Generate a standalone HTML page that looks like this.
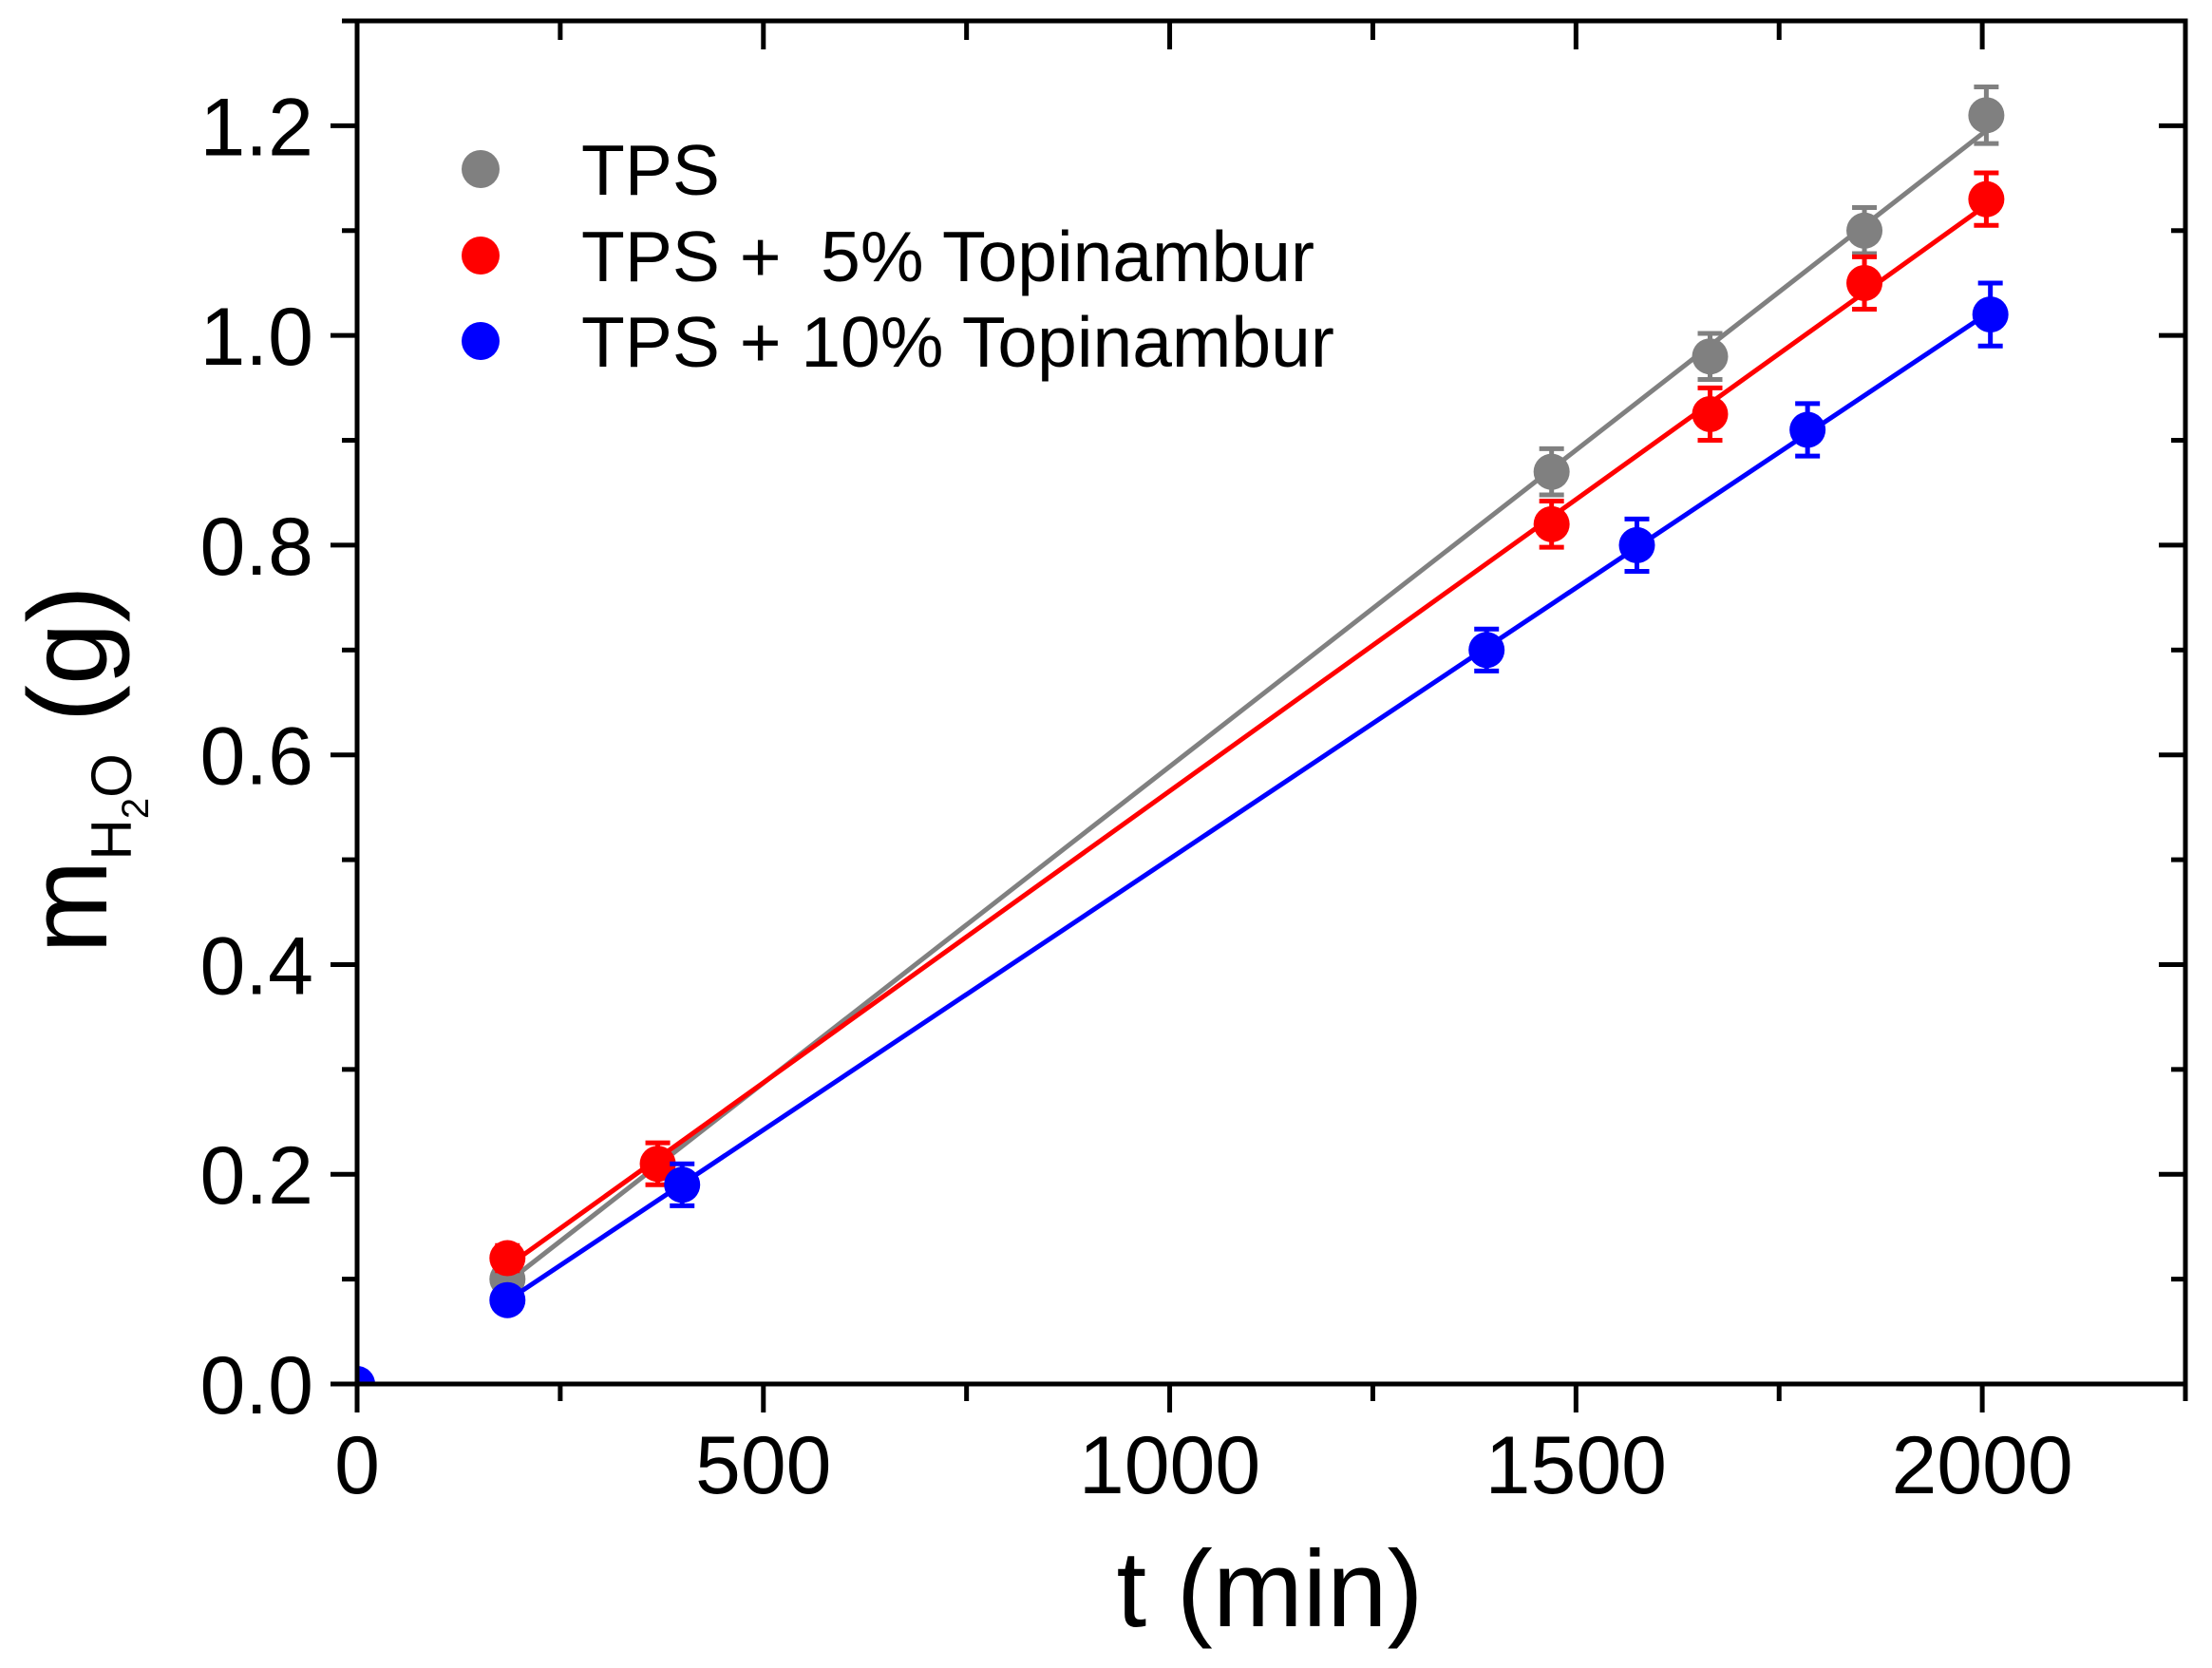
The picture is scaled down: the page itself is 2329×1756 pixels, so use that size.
<!DOCTYPE html>
<html><head><meta charset="utf-8"><style>
html,body{margin:0;padding:0;background:#fff;}
svg{display:block;font-family:"Liberation Sans",Arial,sans-serif;}
</style></head><body>
<svg id="chart" width="2329" height="1756" viewBox="0 0 2329 1756" xmlns="http://www.w3.org/2000/svg">
<g id="plot"></g>
</svg>
<script>
const xTicks = [0, 500, 1000, 1500, 2000];
const yTicks = [0.0, 0.2, 0.4, 0.6, 0.8, 1.0, 1.2];
const yTickLabels = ["0.0", "0.2", "0.4", "0.6", "0.8", "1.0", "1.2"];
const seriesNames = ["TPS", "TPS +  5% Topinambur", "TPS + 10% Topinambur"];
const seriesColors = ["#808080", "#ff0000", "#0000ff"];
const tpsT = [185, 1470, 1665, 1855, 2005];
const tpsM = [0.10, 0.87, 0.98, 1.10, 1.21];
const tpsErr = [0.015, 0.022, 0.022, 0.022, 0.027];
const t5T = [185, 370, 1470, 1665, 1855, 2005];
const t5M = [0.12, 0.21, 0.82, 0.925, 1.05, 1.13];
const t5Err = [0.012, 0.02, 0.022, 0.025, 0.025, 0.025];
const t10T = [0, 185, 400, 1390, 1575, 1785, 2010];
const t10M = [0.0, 0.08, 0.19, 0.70, 0.80, 0.91, 1.02];
const t10Err = [0, 0.008, 0.02, 0.02, 0.025, 0.025, 0.03];

const L = 376, R = 2301, T = 22, B = 1457;
const X0 = 0, X1 = 2250, Y0 = 0, Y1 = 1.30;
function sx(v){ return L + (v - X0) / (X1 - X0) * (R - L); }
function sy(v){ return B - (v - Y0) / (Y1 - Y0) * (B - T); }
const NS = "http://www.w3.org/2000/svg";
const g = document.getElementById('plot');
function el(tag, attrs, parent){
  const e = document.createElementNS(NS, tag);
  for (const k in attrs) e.setAttribute(k, attrs[k]);
  (parent || g).appendChild(e);
  return e;
}
const defs = el('defs', {});
const cp = el('clipPath', {id: 'clip'}, defs);
el('rect', {x: L, y: T, width: R - L, height: B - T}, cp);

const series = [[tpsT, tpsM, tpsErr], [t5T, t5M, t5Err], [t10T, t10M, t10Err]];
const dataG = el('g', {'clip-path': 'url(#clip)'});


series.forEach((s, i) => {
  const [xs, ys, es] = s;
  const c = seriesColors[i];
  const fx = i === 2 ? xs.slice(1) : xs, fy = i === 2 ? ys.slice(1) : ys;
  const n = fx.length;
  let mx = 0, my = 0; fx.forEach((v, k) => { mx += v; my += fy[k]; }); mx /= n; my /= n;
  let num = 0, den = 0; fx.forEach((v, k) => { num += (v - mx) * (fy[k] - my); den += (v - mx) * (v - mx); });
  const b = num / den, a = my - b * mx;
  const xa = fx[0], xb = fx[n - 1];
  const line = el('line', {x1: sx(xa), y1: sy(a + b * xa), x2: sx(xb), y2: sy(a + b * xb), stroke: c, 'stroke-width': 5}, dataG);
  
  
  xs.forEach((x, k) => {
    const cx = sx(x), cy = sy(ys[k]);
    if (es[k] > 0) {
      const eb = el('path', {d: `M${cx},${sy(ys[k] - es[k])}V${sy(ys[k] + es[k])}M${cx - 13},${sy(ys[k] - es[k])}h26M${cx - 13},${sy(ys[k] + es[k])}h26`, stroke: c, 'stroke-width': 5, fill: 'none'}, dataG);
      
      
    }
    const p = el('circle', {cx: cx, cy: cy, r: 19, fill: c}, dataG);
    
    
  });
});

const box = el('rect', {x: L, y: T, width: R - L, height: B - T, fill: 'none', stroke: '#000', 'stroke-width': 5});



for (let v = 0; v <= 2250; v += 250) {
  const major = v % 500 === 0;
  const x = sx(v);
  const t1 = el('line', {x1: x, y1: B, x2: x, y2: B + (major ? 30 : 18), stroke: '#000', 'stroke-width': 5});
  
  
  const t2 = el('line', {x1: x, y1: T, x2: x, y2: T + (major ? 30 : 20), stroke: '#000', 'stroke-width': 5});
  
  
}
xTicks.forEach(v => {
  const t = el('text', {x: sx(v), y: 1572, 'font-size': 86, 'text-anchor': 'middle', fill: '#000'});
  t.textContent = String(v);
  
  
});
for (let k = 0; k <= 13; k++) {
  const v = k * 0.1;
  if (v > Y1 + 1e-9) break;
  const major = k % 2 === 0;
  const y = sy(v);
  const t1 = el('line', {x1: L, y1: y, x2: L - (major ? 28 : 16), y2: y, stroke: '#000', 'stroke-width': 5});
  
  
  const t2 = el('line', {x1: R, y1: y, x2: R - (major ? 28 : 15), y2: y, stroke: '#000', 'stroke-width': 5});
  
  
}
yTicks.forEach((v, k) => {
  const t = el('text', {x: 330, y: sy(v) + 31, 'font-size': 86, 'text-anchor': 'end', fill: '#000'});
  t.textContent = yTickLabels[k];
  
  
});

const xt = el('text', {x: 1337, y: 1712, 'font-size': 114, 'text-anchor': 'middle', fill: '#000'});
xt.textContent = 't (min)';



const yt = el('text', {transform: 'translate(112,810) rotate(-90)', 'font-size': 118, 'text-anchor': 'middle', fill: '#000'});


const s1 = el('tspan', {}, yt); s1.textContent = 'm';
const s2 = el('tspan', {'font-size': 60, dy: 26}, yt); s2.textContent = 'H';
const s3 = el('tspan', {'font-size': 40, dy: 18}, yt); s3.textContent = '2';
const s4 = el('tspan', {'font-size': 60, dy: -18}, yt); s4.textContent = 'O';
const s5 = el('tspan', {dy: -26}, yt); s5.textContent = ' (g)';

const legY = [178, 269, 359];
seriesNames.forEach((name, i) => {
  const lg = el('g', {});
  
  
  el('circle', {cx: 506, cy: legY[i], r: 20, fill: seriesColors[i]}, lg);
  const t = el('text', {x: 612, y: legY[i] + 27, 'font-size': 75, fill: '#000', 'xml:space': 'preserve'}, lg);
  t.style.whiteSpace = 'pre';
  t.textContent = name;
});
</script>
</body></html>
